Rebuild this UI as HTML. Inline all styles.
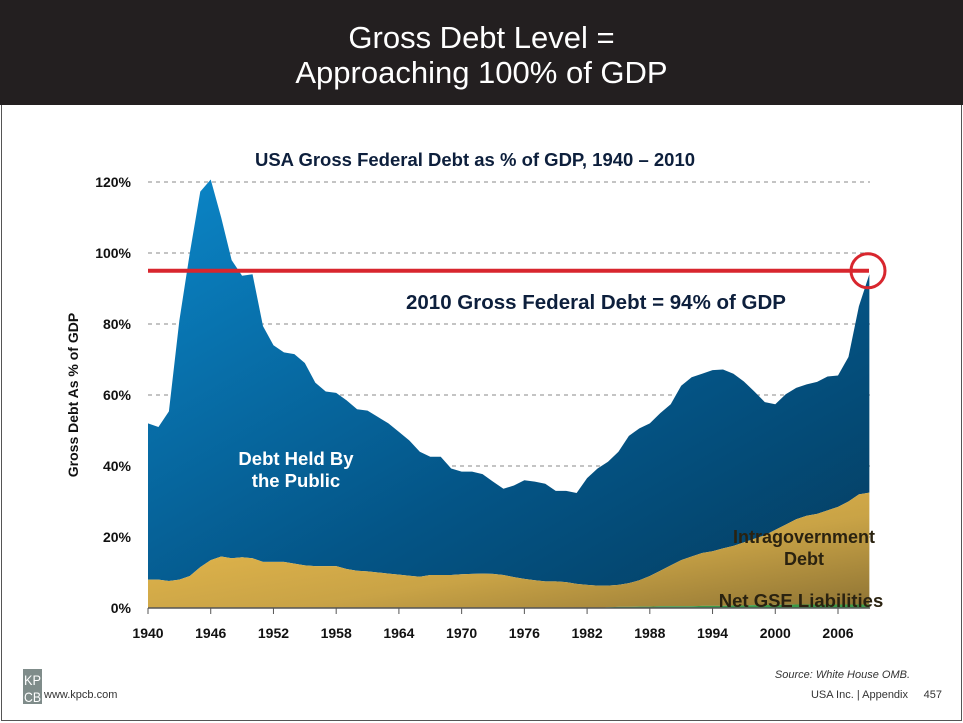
<!DOCTYPE html>
<html><head><meta charset="utf-8"><style>
body{margin:0;background:#fff;font-family:"Liberation Sans",sans-serif}
#wrap{position:relative;width:963px;height:723px;overflow:hidden}
#hdr{position:absolute;left:0;top:0;width:963px;height:105px;background:#231f20;color:#fff;text-align:center;font-size:31px;line-height:35px;padding-top:20px;box-sizing:border-box}
#frame{position:absolute;left:1px;top:105px;width:959px;height:615px;border:1px solid #555;border-top:none}
svg{position:absolute;left:0;top:0}
</style></head><body>
<div id="wrap">
<div id="hdr">Gross Debt Level =<br>Approaching 100% of GDP</div>
<div id="frame"></div>
<svg id="chart" width="963" height="723">
<defs>
<linearGradient id="gb" x1="0" y1="0" x2="1" y2="1"><stop offset="0" stop-color="#0b86c8"/><stop offset="0.6" stop-color="#045587"/><stop offset="1" stop-color="#053d60"/></linearGradient>
<linearGradient id="gg" x1="0" y1="0" x2="1" y2="1"><stop offset="0" stop-color="#f0c04e"/><stop offset="0.6" stop-color="#c9a346"/><stop offset="1" stop-color="#8f7434"/></linearGradient>
</defs>
</svg>
</div>
<script>
const years=[];for(let y=1940;y<=2009;y++)years.push(y);
const gross=[52,51,55.4,81,100,117.3,120.7,110,98,93.6,94,79.4,74,72,71.5,69,63.5,61,60.6,58.5,56,55.6,53.8,52,49.6,47.2,44,42.6,42.6,39.3,38.4,38.4,37.7,35.6,33.6,34.5,36,35.6,35,33,33,32.4,36.6,39.3,41.2,44,48.5,50.6,52,54.9,57.4,62.6,65,66,67,67.2,66,63.8,61,58,57.4,60.2,62,63,63.7,65.2,65.5,70.7,85,94];
const intragov=[8,8,7.6,8,9,11.5,13.5,14.5,14,14.3,14,13,13,13,12.5,12,11.8,11.8,11.8,11,10.5,10.3,10,9.7,9.4,9.1,8.8,9.3,9.3,9.3,9.5,9.6,9.7,9.6,9.3,8.7,8.2,7.8,7.5,7.5,7.3,6.8,6.5,6.3,6.3,6.5,7,7.8,9,10.5,12,13.5,14.5,15.5,16,16.8,17.5,18.5,19.5,20.5,22,23.5,25,26,26.5,27.5,28.5,30,32,32.5];
const gse=[0,0,0,0,0,0,0,0,0,0,0,0,0,0,0,0,0,0,0,0,0,0,0,0,0,0,0,0,0,0,0,0,0,0,0,0,0,0,0,0,0,0,0,0,0.2,0.3,0.3,0.4,0.4,0.5,0.5,0.5,0.5,0.6,0.6,0.6,0.7,0.7,0.8,0.8,0.9,0.9,1,1,1,1,1,1,1,1];
const yTicks=[0,20,40,60,80,100,120];
const xTicks=[1940,1946,1952,1958,1964,1970,1976,1982,1988,1994,2000,2006];
const refValue=95;
const X=y=>148+(y-1940)*10.4545, Y=v=>608-v*3.55;
const S="http://www.w3.org/2000/svg", svg=document.getElementById('chart');
function mk(t,a,txt){const e=document.createElementNS(S,t);for(const k in a)e.setAttribute(k,a[k]);if(txt!=null)e.textContent=txt;svg.appendChild(e);return e;}
yTicks.forEach(v=>{
 if(v>0){const g=mk('line',{x1:148,x2:870,y1:Y(v),y2:Y(v),stroke:'#888','stroke-dasharray':'4 4','stroke-width':1});
 
 }
 const t=mk('text',{x:131,y:Y(v)+5,'text-anchor':'end','font-size':14,'font-weight':'bold',fill:'#111'},v+'%');
 
 
});
function area(top,bot,fill,name){
 let d='M'+X(years[0])+','+Y(top[0]);
 for(let i=1;i<years.length;i++)d+='L'+X(years[i])+','+Y(top[i]);
 for(let i=years.length-1;i>=0;i--)d+='L'+X(years[i])+','+Y(bot?bot[i]:0);
 const p=mk('path',{d:d+'Z',fill:fill});
 
 
}
area(gross,intragov,'url(#gb)','public-debt-area');
area(intragov,gse,'url(#gg)','intragov-debt-area');
area(gse,null,'#3a9a48','gse-liabilities-area');
const ax=mk('line',{x1:148,x2:870,y1:608,y2:608,stroke:'#555','stroke-width':1.5});


xTicks.forEach(yr=>{
 const l=mk('line',{x1:X(yr),x2:X(yr),y1:608,y2:614,stroke:'#555'});
 
 
 const t=mk('text',{x:X(yr),y:638,'text-anchor':'middle','font-size':14,'font-weight':'bold',fill:'#111'},yr);
 
 
});
const rl=mk('line',{x1:148,x2:869,y1:Y(refValue),y2:Y(refValue),stroke:'#d8262e','stroke-width':4});


const rc=mk('circle',{cx:868,cy:Y(refValue),r:17,fill:'none',stroke:'#d8262e','stroke-width':3});


function txt(x,y,s,attrs,name){const t=mk('text',Object.assign({x:x,y:y,'font-weight':'bold'},attrs),s);
 
 return t;}
txt(475,166,'USA Gross Federal Debt  as % of GDP, 1940 – 2010',{'font-size':18.5,'text-anchor':'middle',fill:'#0d1f3c'},'chart-title');
txt(596,309,'2010 Gross Federal Debt = 94% of GDP',{'font-size':20.5,'text-anchor':'middle',fill:'#0d1f3c'},'annotation-2010');
txt(296,465,'Debt Held By',{'font-size':18.5,'text-anchor':'middle',fill:'#fff'},'label-public-1');
txt(296,487,'the Public',{'font-size':18.5,'text-anchor':'middle',fill:'#fff'},'label-public-2');
txt(804,543,'Intragovernment',{'font-size':18,'text-anchor':'middle',fill:'#2a2210'},'label-intragov-1');
txt(804,565,'Debt',{'font-size':18,'text-anchor':'middle',fill:'#2a2210'},'label-intragov-2');
txt(801,607,'Net GSE Liabilities',{'font-size':18.5,'text-anchor':'middle',fill:'#2a2210'},'label-gse');
txt(78,395,'Gross Debt As % of GDP',{'font-size':14,'text-anchor':'middle',fill:'#111',transform:'rotate(-90 78 395)'},'y-axis-title');
const lg=mk('rect',{x:23,y:669,width:19,height:35,fill:'#7f8c8a'});


txt(24,685,'KP',{'font-size':14,'font-weight':'normal',fill:'#fff',textLength:17,lengthAdjust:'spacingAndGlyphs'},'logo-kp');
txt(24,702,'CB',{'font-size':14,'font-weight':'normal',fill:'#fff',textLength:17,lengthAdjust:'spacingAndGlyphs'},'logo-cb');
txt(44,698,'www.kpcb.com',{'font-size':11,'font-weight':'normal',fill:'#333'},'footer-url');
txt(910,678,'Source: White House OMB.',{'font-size':11,'font-weight':'normal','font-style':'italic','text-anchor':'end',fill:'#333'},'source-note');
txt(908,698,'USA Inc. | Appendix',{'font-size':11,'font-weight':'normal','text-anchor':'end',fill:'#333'},'footer-section');
txt(942,698,'457',{'font-size':11,'font-weight':'normal','text-anchor':'end',fill:'#333'},'page-number');
</script>
</body></html>
